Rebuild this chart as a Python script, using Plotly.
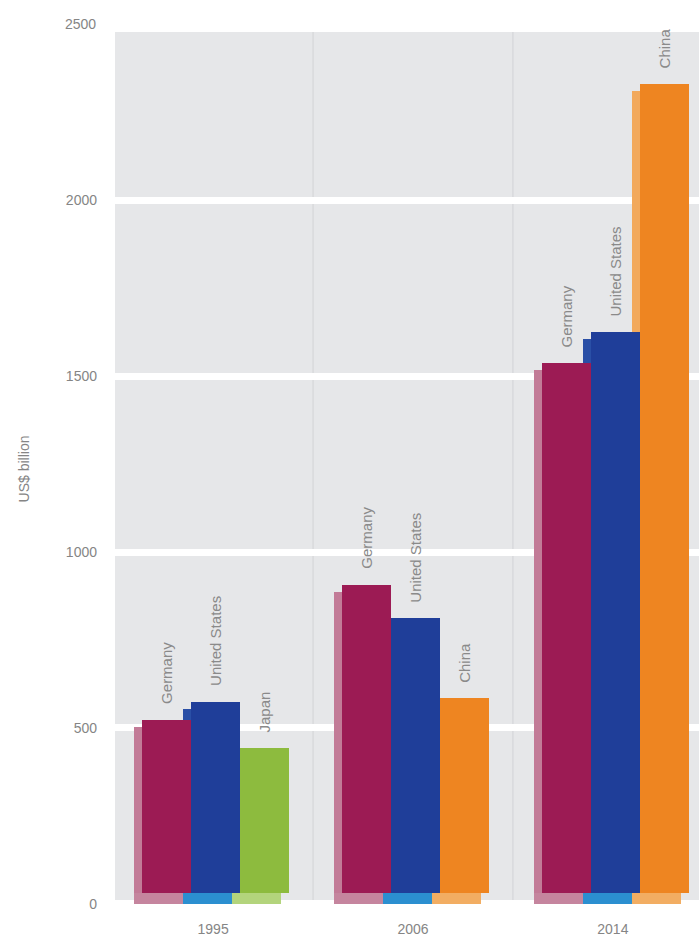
import plotly.graph_objects as go

# Export values, US$ billion
years = ["1995", "2006", "2014"]
germany = [522, 906, 1537]
united_states = [573, 812, 1625]
third_names = ["Japan", "China", "China"]
third_values = [442, 584, 2330]
y_ticks = [0, 500, 1000, 1500, 2000, 2500]

# Styling
FONT = "Liberation Sans, Arial, sans-serif"
TICK_GREY = "#858585"
BAR_W = 0.245
SIDE_DX = 0.04      # depth of the bevel, in category units
BOTTOM_H = 32       # height of the bottom bevel strip, in axis units
TOP_DROP = 20       # how far the side face sits below the front top
Y_RANGE = [-6, 2478]

series = [
    dict(names=["Germany"] * 3, values=germany, offset=-0.355,
         front=["#9c1b54"] * 3, side=["#c27b97"] * 3, bottom=["#c5859e"] * 3),
    dict(names=["United States"] * 3, values=united_states, offset=-0.11,
         front=["#1f3e99"] * 3, side=["#2a4fa6"] * 3, bottom=["#2b8fd0"] * 3),
    dict(names=third_names, values=third_values, offset=0.135,
         front=["#8dbb3e", "#ee8521", "#ee8521"],
         side=["#b3d47c", "#f2a95c", "#f2a95c"],
         bottom=["#b3d47c", "#f2ad62", "#f2ad62"]),
]

x = list(range(len(years)))
fig = go.Figure()

# bevel faces (side and bottom) sit behind the front faces
for s in series:
    fig.add_trace(go.Bar(
        x=x, y=[v - TOP_DROP - BOTTOM_H for v in s["values"]], base=BOTTOM_H,
        offset=s["offset"] - SIDE_DX, width=BAR_W,
        marker=dict(color=s["side"], line=dict(width=0)),
        hoverinfo="skip", showlegend=False))
for s in series:
    fig.add_trace(go.Bar(
        x=x, y=[BOTTOM_H] * len(x), base=0,
        offset=s["offset"] - SIDE_DX, width=BAR_W,
        marker=dict(color=s["bottom"], line=dict(width=0)),
        hoverinfo="skip", showlegend=False))

# front faces
for s in series:
    fig.add_trace(go.Bar(
        x=x, y=[v - BOTTOM_H for v in s["values"]], base=BOTTOM_H,
        offset=s["offset"], width=BAR_W,
        marker=dict(color=s["front"], line=dict(width=0)),
        customdata=list(zip(s["names"], s["values"])),
        hovertemplate="%{customdata[0]}: %{customdata[1]}<extra></extra>",
        showlegend=False))

annotations = []
for s in series:
    for i, (name, v) in enumerate(zip(s["names"], s["values"])):
        annotations.append(dict(
            x=i + s["offset"] + BAR_W / 2, y=v, xref="x", yref="y",
            text=name, textangle=-90, showarrow=False,
            xanchor="center", yanchor="bottom", yshift=14,
            font=dict(family=FONT, size=15, color="#8a8a8a")))

# top tick label sits just above the plotting area
top_paper = (y_ticks[-1] - Y_RANGE[0]) / (Y_RANGE[1] - Y_RANGE[0])
annotations.append(dict(
    x=0, y=top_paper, xref="paper", yref="paper", xshift=-17,
    text=str(y_ticks[-1]), showarrow=False, xanchor="right", yanchor="middle",
    font=dict(family=FONT, size=14, color=TICK_GREY)))

shapes = [dict(type="line", xref="x", yref="paper", x0=b, x1=b, y0=0, y1=1,
               line=dict(color="#d2d3d6", width=1), layer="below")
          for b in (0.5, 1.5)]

fig.update_layout(
    width=699, height=943,
    margin=dict(l=115, r=0, t=32, b=37),
    paper_bgcolor="white", plot_bgcolor="#e6e7e9",
    barmode="overlay", bargap=0,
    font=dict(family=FONT, color=TICK_GREY),
    annotations=annotations, shapes=shapes,
    xaxis=dict(range=[-0.491, 2.431], tickvals=x, ticktext=years,
               showgrid=False, zeroline=False, showline=False, ticks="",
               ticklabelstandoff=13,
               tickfont=dict(family=FONT, size=14, color=TICK_GREY)),
    yaxis=dict(range=Y_RANGE, tickvals=y_ticks[:-1],
               showgrid=True, gridcolor="white", gridwidth=7,
               zeroline=False, showline=False, ticks="",
               ticklabelstandoff=17,
               tickfont=dict(family=FONT, size=14, color=TICK_GREY),
               title=dict(text="US$ billion", standoff=32,
                          font=dict(family=FONT, size=14, color=TICK_GREY))),
)

fig.write_html("out.html")
